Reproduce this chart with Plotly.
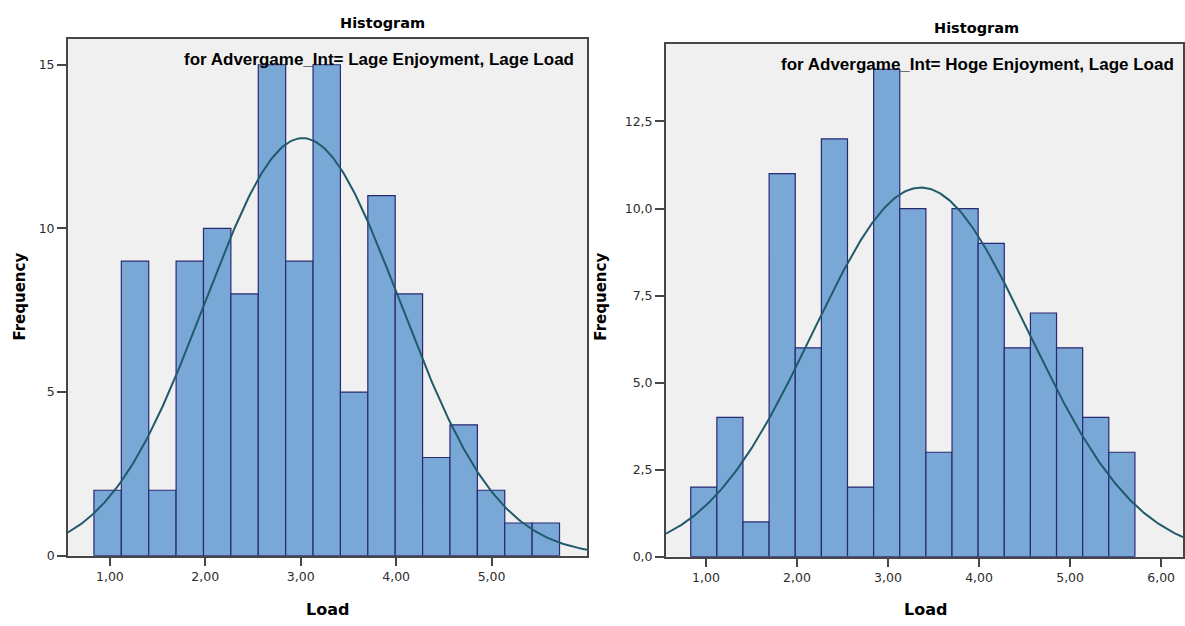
import numpy as np
import plotly.graph_objects as go

# ---- data ----
bin_start = 0.833
bin_width = 0.287
left_counts = [2, 9, 2, 9, 10, 8, 15, 9, 15, 5, 11, 8, 3, 4, 2, 1, 1]
right_counts = [2, 4, 1, 11, 6, 12, 2, 14, 10, 3, 10, 9, 6, 7, 6, 4, 3]
left_mean, left_sd = 3.02, 1.023
right_mean, right_sd = 3.36, 1.188
left_title = "for Advergame_Int= Lage Enjoyment, Lage Load"
right_title = "for Advergame_Int= Hoge Enjoyment, Lage Load"
left_yticks = [0, 5, 10, 15]
left_yticktext = ["0", "5", "10", "15"]
right_yticks = [0, 2.5, 5, 7.5, 10, 12.5]
right_yticktext = ["0,0", "2,5", "5,0", "7,5", "10,0", "12,5"]
left_xticks = [1, 2, 3, 4, 5]
left_xticktext = ["1,00", "2,00", "3,00", "4,00", "5,00"]
right_xticks = [1, 2, 3, 4, 5, 6]
right_xticktext = ["1,00", "2,00", "3,00", "4,00", "5,00", "6,00"]

W, H = 1185, 626
BAR_FILL = "rgb(122,168,214)"
BAR_LINE = "rgb(40,40,115)"
CURVE = "rgb(32,90,108)"
FRAME = "rgb(70,70,70)"
BG = "rgb(240,240,240)"
TICKFONT = dict(family="DejaVu Sans", size=12.5, color="rgb(45,45,45)")

def px_x(v):
    return v / W

def px_y(v):
    return 1 - v / H

left_xrange = [0.56, 6.0]
right_xrange = [0.56, 6.24]
left_yrange = [0, 15.8]
right_yrange = [0, 14.74]

fig = go.Figure()

def add_panel(counts, mean, sd, xa, ya, xrange):
    n = len(counts)
    centers = [bin_start + bin_width * (i + 0.5) for i in range(n)]
    fig.add_trace(go.Bar(
        x=centers, y=counts, width=bin_width,
        marker=dict(color=BAR_FILL, line=dict(color=BAR_LINE, width=1.2)),
        xaxis=xa, yaxis=ya, showlegend=False,
    ))
    N = sum(counts)
    xs = np.linspace(xrange[0], xrange[1], 300)
    ys = N * bin_width / (sd * np.sqrt(2 * np.pi)) * np.exp(-0.5 * ((xs - mean) / sd) ** 2)
    fig.add_trace(go.Scatter(
        x=xs, y=ys, mode="lines", line=dict(color=CURVE, width=2),
        xaxis=xa, yaxis=ya, showlegend=False, hoverinfo="skip",
    ))

add_panel(left_counts, left_mean, left_sd, "x", "y", left_xrange)
add_panel(right_counts, right_mean, right_sd, "x2", "y2", right_xrange)

axis_common = dict(showgrid=False, zeroline=False, showline=True, linecolor=FRAME,
                   linewidth=1.6, mirror=True, ticks="outside", tickcolor=FRAME,
                   tickwidth=1.8, tickfont=TICKFONT)

fig.update_layout(
    width=W, height=H,
    margin=dict(l=0, r=0, t=0, b=0),
    paper_bgcolor="white",
    plot_bgcolor=BG,
    barmode="overlay",
    xaxis=dict(domain=[px_x(68), px_x(588)], range=left_xrange, anchor="y",
               tickvals=left_xticks, ticktext=left_xticktext, ticklen=8, **axis_common),
    yaxis=dict(domain=[px_y(562), px_y(39)], range=left_yrange, anchor="x",
               tickvals=left_yticks, ticktext=left_yticktext, ticklen=9, **axis_common),
    xaxis2=dict(domain=[px_x(667), 1.0], range=right_xrange, anchor="y2",
                tickvals=right_xticks, ticktext=right_xticktext, ticklen=8, **axis_common),
    yaxis2=dict(domain=[px_y(563), px_y(44)], range=right_yrange, anchor="x2",
                tickvals=right_yticks, ticktext=right_yticktext, ticklen=9, **axis_common),
)

ann = []
def A(text, x, y, font, xanchor="center", **kw):
    d = dict(text=text, x=px_x(x), y=px_y(y), xref="paper", yref="paper",
             showarrow=False, font=font, xanchor=xanchor, yanchor="middle")
    d.update(kw)
    ann.append(d)

TITLEFONT = dict(family="DejaVu Sans", size=14.5, color="black")
SUBFONT = dict(family="Liberation Sans Narrow, Arial Narrow, Liberation Sans", size=17, color="black")
LABFONT = dict(family="DejaVu Sans", size=16, color="black")
FREQFONT = dict(family="DejaVu Sans", size=15, color="black")
A("<b>Histogram</b>", 383, 23, TITLEFONT)
A("<b>Histogram</b>", 978, 28.5, TITLEFONT)
A("<b>" + left_title + "</b>", 577, 60, SUBFONT, xanchor="right")
A("<b>" + right_title + "</b>", 1178, 65.5, SUBFONT, xanchor="right")
A("<b>Load</b>", 328, 616, LABFONT)
A("<b>Load</b>", 927, 616, LABFONT)
A("<b>Frequency</b>", 20, 300, FREQFONT, textangle=-90)
A("<b>Frequency</b>", 602, 300, FREQFONT, textangle=-90)
fig.update_layout(annotations=ann)

fig.write_html("out.html")
